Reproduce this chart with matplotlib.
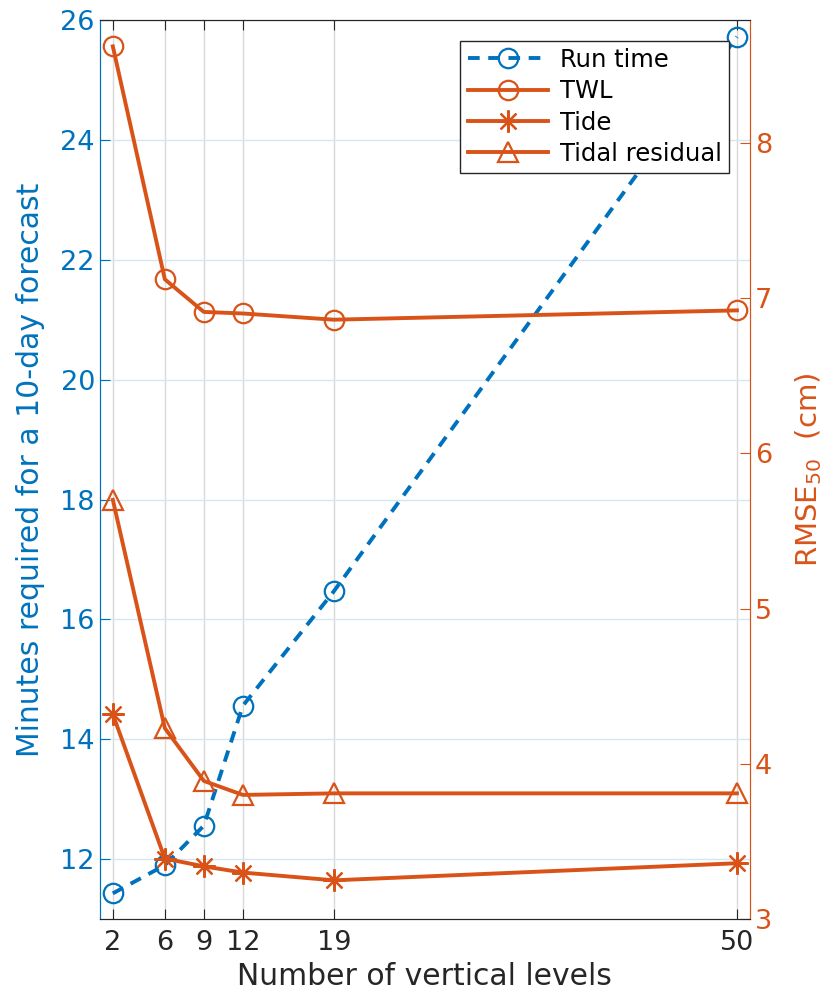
import matplotlib.pyplot as plt

# data
levels = [2, 6, 9, 12, 19, 50]
run_time = [11.43, 11.9, 12.56, 14.56, 16.47, 25.72]   # minutes
rmse_twl = [8.62, 7.12, 6.91, 6.90, 6.86, 6.92]       # cm
rmse_tide = [4.32, 3.39, 3.34, 3.30, 3.25, 3.36]
rmse_resid = [5.70, 4.23, 3.89, 3.80, 3.81, 3.81]

blue = '#0072BD'
orange = '#D95319'

plt.rcParams['font.family'] = 'DejaVu Sans'

fig = plt.figure(figsize=(8.25, 9.98), dpi=100)
ax = fig.add_axes([0.121, 0.079, 0.788, 0.901])
ax2 = ax.twinx()

ln1, = ax.plot(levels, run_time, '--o', color=blue, lw=2.8, ms=14,
               mfc='none', mew=1.6, dashes=(3, 2.2), label='Run time')
ln2, = ax2.plot(levels, rmse_twl, '-o', color=orange, lw=2.8, ms=14,
                mfc='none', mew=1.6, label='TWL')
ln3, = ax2.plot(levels, rmse_tide, '-', marker=(8, 2, 0), color=orange, lw=2.8,
                ms=16, mew=1.6, label='Tide')
ln4, = ax2.plot(levels, rmse_resid, '-^', color=orange, lw=2.8, ms=14,
                mfc='none', mew=1.6, label='Tidal residual')

ax.set_xlim(1, 51)
ax.set_ylim(11, 26)
ax2.set_ylim(3, 8.79)
ax.set_xticks(levels)
ax.set_yticks(range(12, 27, 2))
ax2.set_yticks(range(3, 9))

# grid: vertical light gray, horizontal tinted by left axis
for x in levels:
    ax.axvline(x, color='#d9d9d9', lw=1, zorder=0)
for y in range(12, 27, 2):
    ax.axhline(y, color='#d4e6f3', lw=1, zorder=0)

ax.tick_params(axis='x', direction='in', length=7, labelsize=19.5, top=True,
               color='#262626', labelcolor='#262626', pad=8)
ax.tick_params(axis='y', direction='in', length=7, labelsize=19.5, colors=blue)
ax2.tick_params(axis='y', direction='in', length=7, labelsize=19.5, colors=orange)

for a in (ax, ax2):
    a.spines['top'].set_color('#262626')
    a.spines['bottom'].set_color('#262626')
    a.spines['left'].set_color(blue)
    a.spines['right'].set_color(orange)

ax.set_xlabel('Number of vertical levels', fontsize=21.5, color='#262626')
ax.set_ylabel('Minutes required for a 10-day forecast', fontsize=21.5,
              color=blue, labelpad=11)
ax2.set_ylabel('RMSE$_{50}$  (cm)', fontsize=21, color=orange)
ax2.yaxis.set_label_coords(1.066, 0.5)

leg = ax2.legend(handles=[ln1, ln2, ln3, ln4], loc='upper right',
                 bbox_to_anchor=(0.968, 0.977), fontsize=17.5, frameon=True,
                 fancybox=False, edgecolor='#262626', framealpha=1,
                 handlelength=3.3, handletextpad=0.5, borderpad=0.3,
                 labelspacing=0.3, borderaxespad=0)
leg.get_frame().set_linewidth(1)

fig.savefig('out.png', dpi=100)
